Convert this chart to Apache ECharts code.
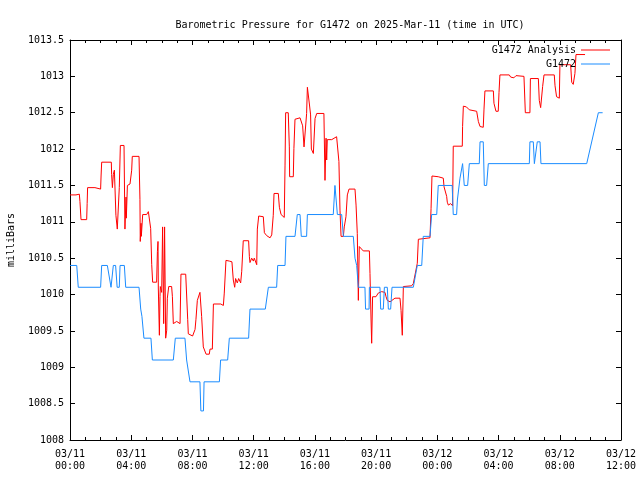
<!DOCTYPE html>
<html>
<head>
<meta charset="utf-8">
<script src="https://cdn.jsdelivr.net/npm/echarts@6/dist/echarts.min.js"></script>
<style>html,body{margin:0;padding:0;background:#fff}#c{width:640px;height:480px}</style>
</head>
<body>
<div id="c"></div>
<script>
// Hours since 2025-03-11 00:00 UTC and pressure (mbar)
const analysisHours = [0,0.39,0.61,0.65,0.72,1.09,1.12,1.15,1.63,1.66,2.0,2.03,2.07,2.7,2.72,2.77,2.83,2.9,3.0,3.09,3.2,3.22,3.29,3.53,3.59,3.66,3.68,3.75,3.92,4.03,4.07,4.51,4.57,4.59,4.64,4.66,4.75,5.01,5.12,5.23,5.27,5.34,5.4,5.66,5.71,5.75,5.77,5.84,5.88,5.9,5.99,6.05,6.12,6.18,6.25,6.32,6.36,6.45,6.64,6.69,6.75,6.82,6.97,7.19,7.25,7.56,7.6,7.69,7.73,7.84,8.01,8.17,8.23,8.32,8.49,8.6,8.71,8.89,9.1,9.15,9.3,9.37,9.85,10.02,10.08,10.19,10.41,10.58,10.67,10.76,10.82,10.93,11.02,11.15,11.22,11.32,11.67,11.72,11.76,11.87,11.98,12.04,12.2,12.24,12.33,12.63,12.7,12.85,13.07,13.18,13.28,13.33,13.61,13.68,13.79,14.0,14.05,14.09,14.26,14.33,14.35,14.59,14.63,14.7,15.03,15.2,15.29,15.42,15.46,15.51,15.59,15.64,15.72,15.77,15.9,16.01,16.12,16.59,16.66,16.73,16.77,16.81,17.1,17.2,17.42,17.53,17.57,17.64,17.71,17.86,17.92,18.03,18.12,18.23,18.62,18.69,18.77,18.84,18.9,19.16,19.56,19.6,19.67,19.71,19.77,19.86,19.99,20.14,20.36,20.58,20.65,20.73,20.91,21.23,21.56,21.63,21.71,21.78,22.32,22.43,22.69,22.76,23.52,23.59,23.65,24.06,24.39,24.44,24.61,24.65,24.72,24.87,25.0,25.02,25.04,25.63,25.65,25.7,25.9,26.09,26.57,26.68,26.79,27.0,27.05,27.11,27.66,27.7,27.83,27.98,28.03,28.09,28.7,28.79,29.0,29.14,29.66,29.75,30.05,30.08,30.6,30.66,30.75,30.88,30.97,31.64,31.69,31.79,31.97,32.01,32.71,32.78,32.88,32.99,33.06,33.65];
const analysisValues = [1011.37,1011.37,1011.38,1011.28,1011.03,1011.03,1011.25,1011.47,1011.47,1011.45,1011.45,1011.63,1011.82,1011.82,1011.65,1011.47,1011.65,1011.71,1011.09,1010.9,1010.9,1011.47,1012.05,1012.05,1010.9,1011.34,1011.05,1011.5,1011.52,1011.71,1011.9,1011.9,1011.31,1010.73,1010.98,1010.8,1011.1,1011.1,1011.14,1011.15,1010.91,1010.41,1010.17,1010.17,1010.59,1010.73,1010.09,1009.44,1009.97,1010.11,1010.03,1010.93,1009.6,1010.93,1009.4,1009.51,1009.95,1010.11,1010.11,1009.97,1009.6,1009.62,1009.63,1009.6,1010.28,1010.28,1010.09,1009.66,1009.46,1009.48,1009.43,1009.52,1009.66,1009.92,1010.03,1009.7,1009.28,1009.18,1009.18,1009.25,1009.25,1009.87,1009.87,1009.85,1010.02,1010.47,1010.46,1010.45,1010.2,1010.1,1010.22,1010.16,1010.22,1010.16,1010.32,1010.74,1010.74,1010.52,1010.44,1010.5,1010.46,1010.5,1010.41,1010.9,1011.08,1011.07,1010.85,1010.81,1010.78,1010.82,1011.09,1011.39,1011.39,1011.2,1011.1,1011.06,1011.78,1012.5,1012.5,1012.03,1011.62,1011.62,1012.01,1012.41,1012.43,1012.32,1012.03,1012.02,1012.49,1012.85,1012.85,1012.62,1012.47,1012.0,1011.94,1012.42,1012.49,1012.49,1011.57,1012.15,1011.85,1012.13,1012.13,1012.15,1012.17,1012.17,1011.83,1011.16,1010.8,1010.8,1010.93,1011.07,1011.37,1011.45,1011.45,1011.23,1010.84,1009.92,1010.66,1010.6,1010.6,1010.29,1009.65,1009.33,1009.97,1009.99,1009.97,1010.02,1010.04,1010.03,1009.97,1009.92,1009.9,1009.95,1009.95,1009.78,1009.44,1010.11,1010.12,1010.15,1010.43,1010.76,1010.78,1011.18,1011.63,1011.62,1011.6,1011.48,1011.35,1011.27,1011.23,1011.25,1011.22,1011.63,1012.04,1012.04,1012.31,1012.59,1012.58,1012.54,1012.52,1012.38,1012.31,1012.3,1012.55,1012.8,1012.8,1012.63,1012.52,1012.52,1012.78,1013.02,1013.02,1012.99,1012.98,1013.01,1013.0,1012.5,1012.5,1012.97,1012.97,1012.67,1012.57,1012.86,1013.02,1013.02,1012.87,1012.72,1012.7,1013.16,1013.16,1012.92,1012.89,1013.04,1013.3,1013.3];

const stationHours = [0,0.44,0.54,2.0,2.07,2.44,2.68,2.74,2.83,2.98,3.08,3.22,3.27,3.55,3.64,4.51,4.62,4.7,4.83,5.29,5.38,6.75,6.88,7.51,7.62,7.84,8.49,8.55,8.72,8.76,9.76,9.84,10.3,10.41,11.67,11.76,12.76,12.96,13.5,13.57,14.05,14.11,14.7,14.85,15.03,15.11,15.46,15.51,17.2,17.31,17.42,17.47,17.75,17.86,18.51,18.62,18.73,18.84,19.27,19.31,19.54,19.56,20.25,20.3,20.47,20.54,20.73,20.8,20.95,21.04,22.43,22.69,22.98,23.08,23.52,23.63,23.96,24.06,24.97,25.04,25.26,25.31,25.48,25.65,25.76,25.98,26.09,26.74,26.79,27.0,27.07,27.22,27.33,30.01,30.05,30.27,30.34,30.45,30.53,30.71,30.77,33.76,34.52,34.8];
const stationValues = [1010.4,1010.4,1010.1,1010.1,1010.4,1010.4,1010.1,1010.1,1010.4,1010.4,1010.1,1010.1,1010.4,1010.4,1010.1,1010.1,1009.8,1009.7,1009.4,1009.4,1009.1,1009.1,1009.4,1009.4,1009.1,1008.8,1008.8,1008.4,1008.4,1008.8,1008.8,1009.1,1009.1,1009.4,1009.4,1009.8,1009.8,1010.1,1010.1,1010.4,1010.4,1010.8,1010.8,1011.1,1011.1,1010.8,1010.8,1011.1,1011.1,1011.5,1011.5,1011.1,1011.1,1010.8,1010.8,1010.5,1010.4,1010.1,1010.1,1009.8,1009.8,1010.1,1010.1,1009.8,1009.8,1010.1,1010.1,1009.8,1009.8,1010.1,1010.1,1010.4,1010.4,1010.8,1010.8,1011.1,1011.1,1011.5,1011.5,1011.1,1011.1,1011.3,1011.6,1011.8,1011.5,1011.5,1011.8,1011.8,1012.1,1012.1,1011.5,1011.5,1011.8,1011.8,1012.1,1012.1,1011.8,1011.8,1012.1,1012.1,1011.8,1011.8,1012.5,1012.5];

const xTickLabels = ["03/11\n00:00","03/11\n04:00","03/11\n08:00","03/11\n12:00","03/11\n16:00","03/11\n20:00","03/12\n00:00","03/12\n04:00","03/12\n08:00","03/12\n12:00"];
const seriesNames = ["G1472 Analysis","G1472"];
const seriesColors = ["#ff0000","#1a8cff"];
const titleText = "Barometric Pressure for G1472 on 2025-Mar-11 (time in UTC)";
const yAxisTitle = "milliBars";

const FONT = "DejaVu Sans Mono";
const zip = (a, b) => a.map((t, i) => [t, b[i]]);

const chart = echarts.init(document.getElementById('c'), null, {renderer: 'canvas'});
const baseX = {
  type: 'value', min: 0, max: 36, interval: 4,
  axisLine: {show: true, onZero: false, lineStyle: {color: '#000', width: 1}},
  axisTick: {show: true, inside: true, length: 5, lineStyle: {color: '#000'}},
  minorTick: {show: true, splitNumber: 4, length: 3, lineStyle: {color: '#000'}},
  splitLine: {show: false}
};
const baseY = {
  type: 'value', min: 1008, max: 1013.5, interval: 0.5,
  axisLine: {show: true, onZero: false, lineStyle: {color: '#000', width: 1}},
  axisTick: {show: true, inside: true, length: 5, lineStyle: {color: '#000'}},
  splitLine: {show: false}
};
chart.setOption({
  animation: false,
  backgroundColor: '#fff',
  title: {
    text: titleText, left: 345, top: 14, textAlign: 'center',
    textStyle: {fontFamily: FONT, fontSize: 10, fontWeight: 'normal', color: '#000', lineHeight: 12}
  },
  legend: {
    orient: 'vertical', right: 25, top: 39, align: 'right',
    itemWidth: 29, itemHeight: 1, itemGap: 2, icon: 'rect',
    textStyle: {fontFamily: FONT, fontSize: 10, color: '#000', lineHeight: 12},
    data: seriesNames.map((n, i) => ({name: n, icon: 'rect', itemStyle: {color: seriesColors[i]}}))
  },
  grid: {left: 70, right: 19, top: 40, bottom: 40, containLabel: false, outerBoundsMode: 'none'},
  xAxis: [
    Object.assign({}, baseX, {
      position: 'bottom',
      axisLabel: {margin: 8, fontFamily: FONT, fontSize: 10, color: '#000', lineHeight: 12,
        formatter: v => xTickLabels[Math.round(v / 4)] || ''}
    }),
    Object.assign({}, baseX, {position: 'top', axisLabel: {show: false}})
  ],
  yAxis: [
    Object.assign({}, baseY, {
      position: 'left',
      name: yAxisTitle, nameLocation: 'middle', nameRotate: 90, nameGap: 54,
      nameTextStyle: {fontFamily: FONT, fontSize: 10, color: '#000'},
      axisLabel: {margin: 6, fontFamily: FONT, fontSize: 10, color: '#000',
        formatter: v => String(Math.round(v * 10) / 10)}
    }),
    Object.assign({}, baseY, {position: 'right', axisLabel: {show: false}})
  ],
  series: [
    {name: seriesNames[0], type: 'line', data: zip(analysisHours, analysisValues),
     symbol: 'none', showSymbol: false, lineStyle: {color: seriesColors[0], width: 1}, itemStyle: {color: seriesColors[0]}},
    {name: seriesNames[1], type: 'line', data: zip(stationHours, stationValues),
     symbol: 'none', showSymbol: false, lineStyle: {color: seriesColors[1], width: 1}, itemStyle: {color: seriesColors[1]}}
  ]
});
</script>
</body>
</html>
